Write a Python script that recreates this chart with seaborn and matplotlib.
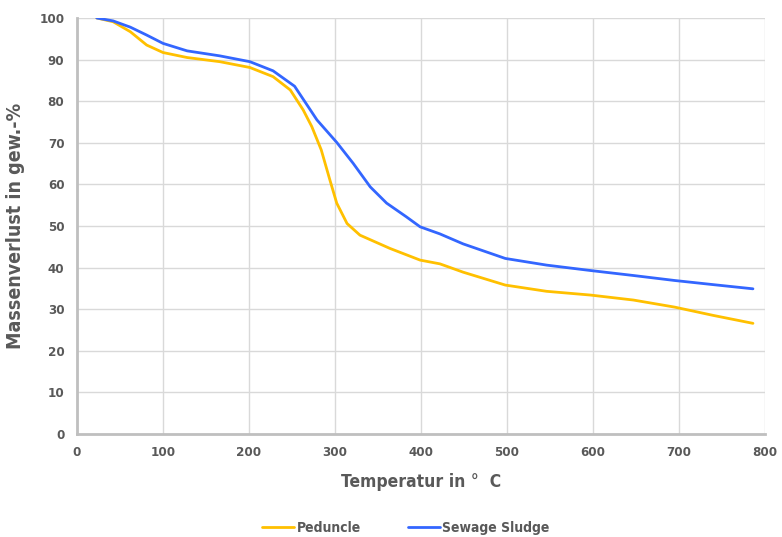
import matplotlib
matplotlib.use("Agg")
import matplotlib.pyplot as plt
import seaborn as sns
import pandas as pd

ped_t = [23, 42, 62, 81, 100, 128, 166, 201, 228, 248, 263, 273, 284, 294, 302, 314, 329, 364, 399, 422, 449, 498, 546, 597, 647, 695, 740, 786]
ped_y = [100, 99.1, 96.7, 93.5, 91.7, 90.5, 89.5, 88.1, 85.9, 82.7, 77.9, 73.9, 68.3, 61.1, 55.5, 50.6, 47.8, 44.6, 41.8, 40.9, 38.9, 35.8, 34.3, 33.4, 32.2, 30.5, 28.5, 26.6]
sew_t = [23, 42, 62, 81, 100, 128, 166, 201, 228, 253, 271, 279, 302, 321, 341, 360, 383, 399, 422, 449, 498, 546, 597, 647, 695, 740, 786]
sew_y = [100, 99.3, 97.8, 95.9, 93.9, 92.1, 90.9, 89.5, 87.3, 83.6, 78.0, 75.5, 70.1, 65.1, 59.4, 55.5, 52.2, 49.8, 48.1, 45.7, 42.2, 40.6, 39.3, 38.1, 36.9, 35.9, 34.9]
series = ["Peduncle", "Sewage Sludge"]
colors = ["#FFC000", "#3366FF"]

df = pd.DataFrame({
    "T": ped_t + sew_t,
    "m": ped_y + sew_y,
    "s": [series[0]] * len(ped_t) + [series[1]] * len(sew_t),
})

sns.set_theme(style="white")
plt.rcParams["font.family"] = ["DejaVu Sans"]
plt.rcParams["font.stretch"] = "condensed"

fig = plt.figure(figsize=(7.82, 5.37), dpi=100)
ax = fig.add_axes([77/782, 1-434/537, (765-77)/782, (434-18)/537])
sns.lineplot(data=df, x="T", y="m", hue="s", palette=colors, ax=ax, linewidth=2, legend=True)

ax.set_xlim(0, 800)
ax.set_ylim(0, 100)
ax.set_xticks(range(0, 801, 100))
ax.set_yticks(range(0, 101, 10))
ax.grid(True, color="#D9D9D9", linewidth=1)
ax.set_axisbelow(True)
for s in ["top", "right"]:
    ax.spines[s].set_visible(False)
for s in ["left", "bottom"]:
    ax.spines[s].set_color("#BFBFBF")
    ax.spines[s].set_linewidth(2)
ax.tick_params(axis="both", length=0, labelsize=9.5, colors="#595959", pad=9)
for lab in ax.get_xticklabels() + ax.get_yticklabels():
    lab.set_fontweight("bold")
ax.set_xlabel("Temperatur in °  C", fontsize=12.5, fontweight="bold", color="#595959", labelpad=10)
ax.set_ylabel("Massenverlust in gew.-%", fontsize=14, fontweight="bold", color="#595959", labelpad=10)

handles, labels = ax.get_legend_handles_labels()
ax.legend(handles, labels, loc="center", bbox_to_anchor=(0.478, -0.225), ncol=2, frameon=False,
          prop={"size": 10, "weight": "bold"}, labelcolor="#595959", handlelength=2.3,
          handletextpad=0.15, columnspacing=3.4)

fig.savefig("out.png", dpi=100)
